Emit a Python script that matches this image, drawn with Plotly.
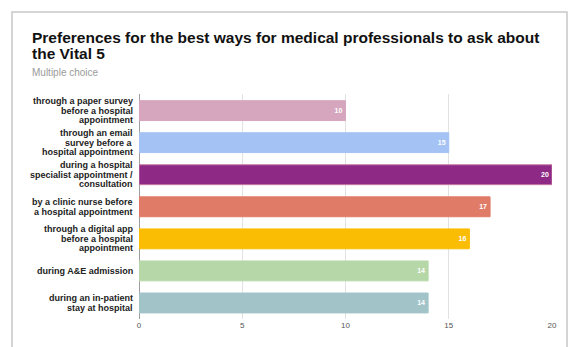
import plotly.graph_objects as go

# Survey answers (top to bottom) and their response counts
categories = [
    "through a paper survey<br>before a hospital<br>appointment",
    "through an email<br>survey before a<br>hospital appointment",
    "during a hospital<br>specialist appointment /<br>consultation",
    "by a clinic nurse before<br>a hospital appointment",
    "through a digital app<br>before a hospital<br>appointment",
    "during A&E admission",
    "during an in-patient<br>stay at hospital",
]
counts = [10, 15, 20, 17, 16, 14, 14]
bar_colors = ["#d5a6bd", "#a4c2f4", "#8e2a86", "#e07b67", "#fbbc04", "#b6d7a8", "#a2c4c9"]
outline_colors = ["#d5a6bd", "#a4c2f4", "#c27ba0", "#e07b67", "#fbbc04", "#b6d7a8", "#a2c4c9"]
x_ticks = [0, 5, 10, 15, 20]

W, H = 570, 347
L, R, T, B = 139, 18, 94, 28
pw, ph = W - L - R, H - T - B
LABEL_PITCH = 9.6


def px_x(x):
    return (x - L) / pw


def px_y(y):
    return (H - B - y) / ph


fig = go.Figure(
    go.Bar(
        x=counts,
        y=categories,
        orientation="h",
        marker=dict(color=bar_colors, line=dict(color=outline_colors, width=1)),
        width=0.62,
        text=[str(v) for v in counts],
        textposition="inside",
        insidetextanchor="end",
        textangle=0,
        textfont=dict(family="Liberation Sans", size=7, color="white", weight="bold"),
        cliponaxis=False,
        hoverinfo="skip",
    )
)

annotations = [
    dict(
        text="Preferences for the best ways for medical professionals to ask about",
        xref="paper", yref="paper", x=px_x(30), y=px_y(27),
        xanchor="left", yanchor="top", showarrow=False,
        font=dict(family="Liberation Sans", size=15.5, color="#111111", weight="bold"),
    ),
    dict(
        text="the Vital 5",
        xref="paper", yref="paper", x=px_x(30), y=px_y(43),
        xanchor="left", yanchor="top", showarrow=False,
        font=dict(family="Liberation Sans", size=15.5, color="#111111", weight="bold"),
    ),
    dict(
        text="Multiple choice",
        xref="paper", yref="paper", x=px_x(30), y=px_y(65),
        xanchor="left", yanchor="top", showarrow=False,
        font=dict(family="Liberation Sans", size=10, color="#9a9a9a"),
    ),
]

# Category labels, drawn line by line for tight line spacing
for cat in categories:
    lines = cat.split("<br>")
    n = len(lines)
    for i, line in enumerate(lines):
        annotations.append(
            dict(
                text=line,
                xref="paper", yref="y", x=px_x(135), y=cat,
                xanchor="right", yanchor="middle", showarrow=False,
                yshift=((n - 1) / 2 - i) * LABEL_PITCH,
                font=dict(family="Liberation Sans", size=9, color="#222222", weight="bold"),
            )
        )

fig.update_layout(
    width=W,
    height=H,
    margin=dict(l=L, r=R, t=T, b=B),
    paper_bgcolor="white",
    plot_bgcolor="white",
    showlegend=False,
    font=dict(family="Liberation Sans"),
    xaxis=dict(
        range=[0, 20],
        tickvals=x_ticks,
        showgrid=True,
        gridcolor="#e2e2e2",
        gridwidth=1,
        zeroline=True,
        zerolinecolor="#9e9e9e",
        zerolinewidth=1,
        showline=False,
        tickfont=dict(size=8, color="#555555"),
        ticks="",
        fixedrange=True,
    ),
    yaxis=dict(
        categoryorder="array",
        categoryarray=categories[::-1],
        showgrid=False,
        ticks="",
        showticklabels=False,
        fixedrange=True,
    ),
    annotations=annotations,
    shapes=[
        dict(
            type="rect",
            xref="paper", yref="paper",
            x0=px_x(12), x1=px_x(567),
            y0=px_y(352), y1=px_y(12),
            line=dict(color="#c8c8c8", width=1.5),
            fillcolor="rgba(0,0,0,0)",
            layer="below",
        )
    ],
)

fig.write_html("out.html")
